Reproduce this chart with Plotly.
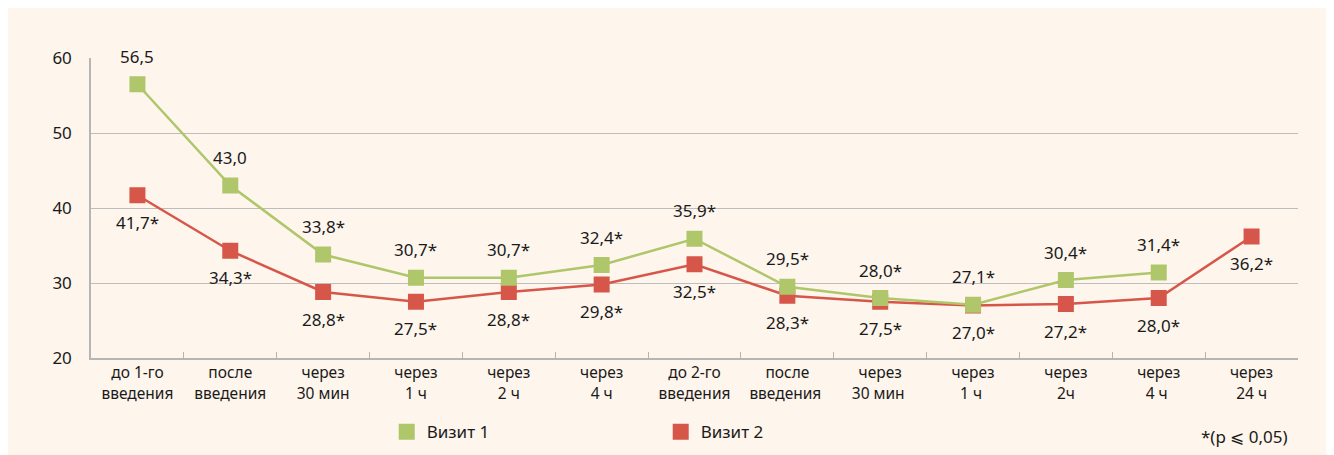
import plotly.graph_objects as go

categories = ["до 1-го<br>введения", "после<br>введения", "через<br>30 мин", "через<br>1 ч",
              "через<br>2 ч", "через<br>4 ч", "до 2-го<br>введения", "после<br>введения ",
              "через<br>30 мин ", "через<br>1 ч ", "через<br>2ч", "через<br>4 ч ", "через<br>24 ч"]
visit1 = [56.5, 43.0, 33.8, 30.7, 30.7, 32.4, 35.9, 29.5, 28.0, 27.1, 30.4, 31.4, None]
visit1_sig = [False, False, True, True, True, True, True, True, True, True, True, True, False]
visit2 = [41.7, 34.3, 28.8, 27.5, 28.8, 29.8, 32.5, 28.3, 27.5, 27.0, 27.2, 28.0, 36.2]
visit2_sig = [True] * 13
y_ticks = [20, 30, 40, 50, 60]

GREEN = "#AFC66A"
RED = "#D7564A"
CREAM = "#FEF5EC"
TXT = "#1a1a1a"
FONT = "Noto Sans"


def fmt(v, s):
    return f"{v:.1f}".replace(".", ",") + ("*" if s else "")


fig = go.Figure()
fig.add_trace(go.Scatter(x=categories, y=visit2, mode="lines+markers", name="Визит 2",
                         line=dict(color=RED, width=2.5),
                         marker=dict(symbol="square", size=16, color=RED),
                         showlegend=False))
fig.add_trace(go.Scatter(x=categories, y=visit1, mode="lines+markers", name="Визит 1",
                         line=dict(color=GREEN, width=2.5),
                         marker=dict(symbol="square", size=16, color=GREEN),
                         showlegend=False))
# legend entries
fig.add_trace(go.Scatter(x=[None], y=[None], mode="markers", name="Визит 1",
                         marker=dict(symbol="square", size=16, color=GREEN)))
fig.add_trace(go.Scatter(x=[None], y=[None], mode="markers", name="Визит 2",
                         marker=dict(symbol="square", size=16, color=RED)))

annotations = []
for c, v, s in zip(categories, visit1, visit1_sig):
    if v is None:
        continue
    annotations.append(dict(x=c, y=v, xref="x", yref="y", text=fmt(v, s), showarrow=False,
                            yshift=28, font=dict(family=FONT, size=17, color=TXT)))
for c, v, s in zip(categories, visit2, visit2_sig):
    annotations.append(dict(x=c, y=v, xref="x", yref="y", text=fmt(v, s), showarrow=False,
                            yshift=-27, font=dict(family=FONT, size=17, color=TXT)))
annotations.append(dict(x=0.9934, y=-0.263, xref="paper", yref="paper", xanchor="right",
                        yanchor="middle", text="*(p ⩽ 0,05)", showarrow=False,
                        font=dict(family=FONT, size=17, color=TXT)))

fig.update_layout(
    width=1334, height=455,
    margin=dict(l=83, r=44, t=50, b=105, autoexpand=False),
    paper_bgcolor=CREAM,
    plot_bgcolor=CREAM,
    font=dict(family=FONT, color=TXT),
    annotations=annotations,
    legend=dict(orientation="h", x=0.245, xanchor="left", y=-0.247, yanchor="middle",
                entrywidth=229, entrywidthmode="pixels", bgcolor="rgba(0,0,0,0)",
                font=dict(family=FONT, size=17, color=TXT), itemwidth=30),
)
fig.update_xaxes(type="category", tickson="boundaries", ticks="inside", ticklen=6,
                 tickcolor="#B5B5B5", showline=True, linecolor="#B5B5B5", linewidth=1.5,
                 showgrid=False, tickfont=dict(family=FONT, size=15.5, color=TXT),
                 range=[-0.5, 12.5])
fig.update_yaxes(range=[20, 60], tickvals=y_ticks, showline=True, linecolor="#B5B5B5",
                 linewidth=1.5, gridcolor="#BDBDBD", gridwidth=1, zeroline=False,
                 ticks="", ticklabelstandoff=14, tickfont=dict(family=FONT, size=17, color=TXT))

fig.write_html("out.html")
